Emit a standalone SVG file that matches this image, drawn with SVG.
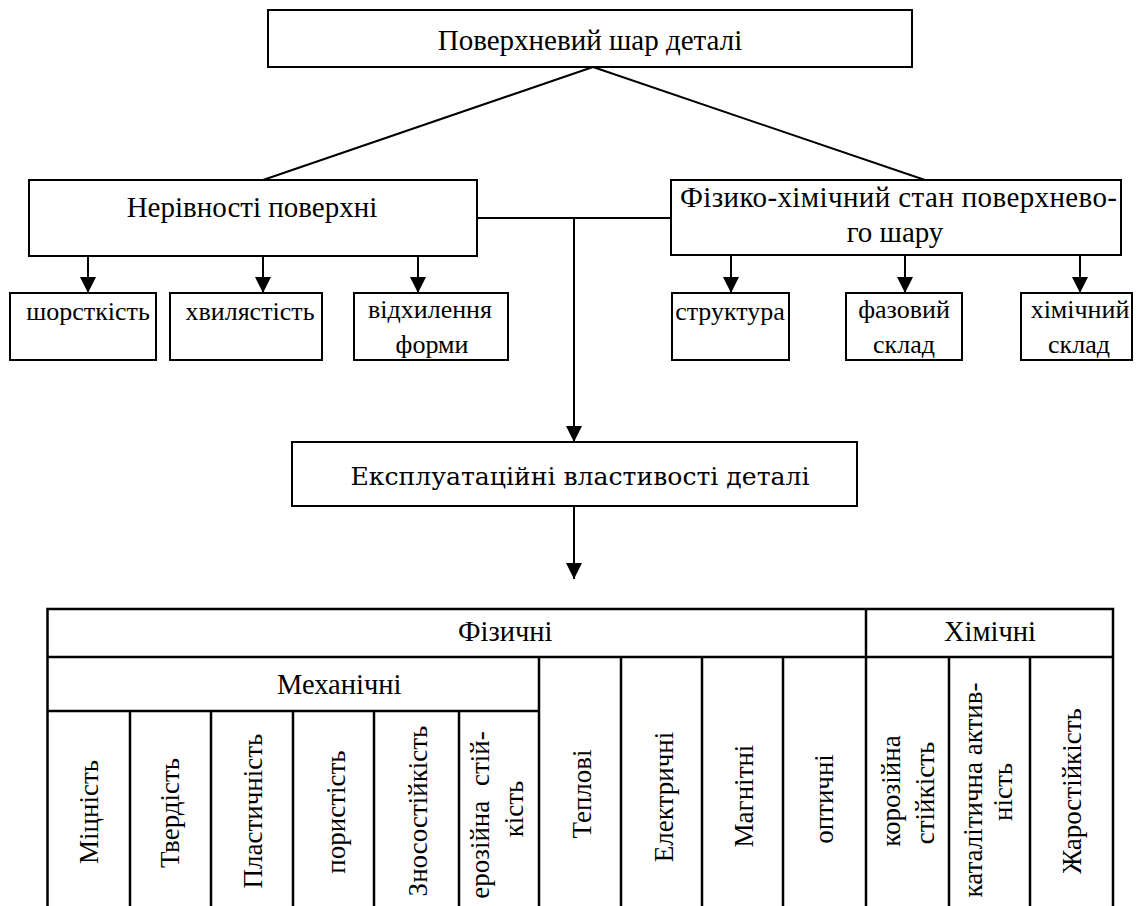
<svg xmlns="http://www.w3.org/2000/svg" width="1137" height="906" viewBox="0 0 1137 906">
<style>
.box{fill:#fff;stroke:#000;stroke-width:2}
.ln{stroke:#000;stroke-width:2;fill:none}
.tb{stroke:#000;stroke-width:2.5;fill:none}
.t{font-family:'Liberation Serif','Times New Roman',serif;fill:#000;font-size:26px}
.tl{font-family:'Liberation Serif','Times New Roman',serif;fill:#000;font-size:29px}
.tv{font-family:'Liberation Serif','Times New Roman',serif;fill:#000;font-size:27px;text-anchor:middle}
.th{font-family:'Liberation Serif','Times New Roman',serif;fill:#000;font-size:28.5px}
.c{text-anchor:middle}
.e{font-family:'DejaVu Serif',serif;fill:#000;font-size:24px}
</style>
<defs>
<marker id="ah" markerUnits="userSpaceOnUse" viewBox="0 0 16 16" refX="16" refY="8" markerWidth="16" markerHeight="16" orient="auto">
<path d="M0,0 L16,8 L0,16 Z" fill="#000"/>
</marker>
</defs>
<g id="connectors">
<line class="ln" x1="593" y1="67" x2="263" y2="180"/>
<line class="ln" x1="593" y1="67" x2="925" y2="180"/>
<line class="ln" x1="477" y1="218" x2="671" y2="218"/>
<line class="ln" x1="574" y1="218" x2="574" y2="442" marker-end="url(#ah)"/>
<line class="ln" x1="88" y1="256" x2="88" y2="293" marker-end="url(#ah)"/>
<line class="ln" x1="263" y1="256" x2="263" y2="293" marker-end="url(#ah)"/>
<line class="ln" x1="418" y1="256" x2="418" y2="293" marker-end="url(#ah)"/>
<line class="ln" x1="731" y1="255" x2="731" y2="293" marker-end="url(#ah)"/>
<line class="ln" x1="905" y1="255" x2="905" y2="293" marker-end="url(#ah)"/>
<line class="ln" x1="1080" y1="255" x2="1080" y2="293" marker-end="url(#ah)"/>
<line class="ln" x1="574" y1="507" x2="574" y2="579" marker-end="url(#ah)"/>
</g>
<g id="n-top">
<rect class="box" x="268" y="10" width="644" height="57"/>
<text class="tl c" x="590" y="50">Поверхневий шар деталі</text>
</g>
<g id="n-nerivnosti">
<rect class="box" x="29" y="180" width="448" height="76"/>
<text class="tl c" x="252" y="217">Нерівності поверхні</text>
</g>
<g id="n-fizkhim">
<rect class="box" x="671" y="180" width="450" height="75"/>
<text class="tl" x="680" y="207" textLength="437" lengthAdjust="spacing">Фізико-хімічний стан поверхнево-</text>
<text class="tl c" x="895" y="242">го шару</text>
</g>
<g id="n-shorst">
<rect class="box" x="10" y="293" width="146" height="67"/>
<text class="t c" x="88" y="320">шорсткість</text>
</g>
<g id="n-khvyl">
<rect class="box" x="170" y="293" width="152" height="67"/>
<text class="t c" x="250" y="320">хвилястість</text>
</g>
<g id="n-vidkh">
<rect class="box" x="354" y="293" width="154" height="67"/>
<text class="t c" x="430" y="318">відхилення</text>
<text class="t c" x="432" y="353">форми</text>
</g>
<g id="n-strukt">
<rect class="box" x="672" y="293" width="117" height="67"/>
<text class="t c" x="730" y="320">структура</text>
</g>
<g id="n-faz">
<rect class="box" x="846" y="293" width="116" height="67"/>
<text class="t c" x="904" y="318">фазовий</text>
<text class="t c" x="904" y="353">склад</text>
</g>
<g id="n-khim">
<rect class="box" x="1021" y="293" width="111" height="67"/>
<text class="t c" x="1080" y="318">хімічний</text>
<text class="t c" x="1079" y="353">склад</text>
</g>
<g id="n-ekspl">
<rect class="box" x="292" y="442" width="565" height="64"/>
<text class="e c" x="580" y="485" textLength="459" lengthAdjust="spacingAndGlyphs">Експлуатаційні властивості деталі</text>
</g>
<g id="table">
<path class="tb" d="M47.5,906 V609 H1113 V906 M47.5,657 H1113 M47.5,711 H539 M866,609 V906 M539,657 V906 M621,657 V906 M702,657 V906 M783,657 V906 M949,657 V906 M1030,657 V906 M130,711 V906 M211,711 V906 M293,711 V906 M374,711 V906 M459,711 V906"/>
<text class="th" x="458" y="641">Фізичні</text>
<text class="th" x="277" y="694">Механічні</text>
<text class="th c" x="990" y="641">Хімічні</text>
<text class="tv" transform="translate(98,812) rotate(-90)">Міцність</text>
<text class="tv" transform="translate(179,813) rotate(-90)">Твердість</text>
<text class="tv" transform="translate(262,811) rotate(-90)">Пластичність</text>
<text class="tv" transform="translate(345,812) rotate(-90)">пористість</text>
<text class="tv" transform="translate(427,811) rotate(-90)">Зносостійкість</text>
<text class="tv" transform="translate(489,815) rotate(-90)" word-spacing="8">ерозійна стій-</text>
<text class="tv" transform="translate(523,809) rotate(-90)">кість</text>
<text class="tv" transform="translate(591,794) rotate(-90)">Теплові</text>
<text class="tv" transform="translate(673,797) rotate(-90)">Електричні</text>
<text class="tv" transform="translate(753,796) rotate(-90)">Магнітні</text>
<text class="tv" transform="translate(833,799) rotate(-90)">оптичні</text>
<text class="tv" transform="translate(900,791) rotate(-90)">корозійна</text>
<text class="tv" transform="translate(934,793) rotate(-90)">стійкість</text>
<text class="tv" transform="translate(982,790) rotate(-90)">каталітична актив-</text>
<text class="tv" transform="translate(1012,792) rotate(-90)">ність</text>
<text class="tv" transform="translate(1081,791) rotate(-90)">Жаростійкість</text>
</g>
</svg>
